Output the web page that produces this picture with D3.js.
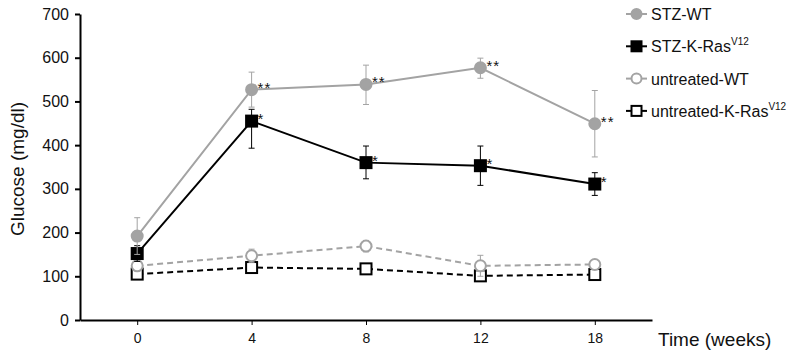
<!DOCTYPE html>
<html>
<head>
<meta charset="utf-8">
<script src="https://cdn.jsdelivr.net/npm/d3@7"></script>
<style>
  body { margin: 0; background: #fff; }
  svg { display: block; font-family: "Liberation Sans", Arial, sans-serif; }
</style>
</head>
<body>
<div id="chart"></div>
<script>
// time points (weeks)
const weeks = ["0", "4", "8", "12", "18"];
const yTicks = [0, 100, 200, 300, 400, 500, 600, 700];

// glucose means (mg/dl)
const stzWT = [192, 527, 539, 577, 449];
const stzKRas = [152, 455, 360, 353, 311];
const untreatedWT = [124, 147, 169, 124, 127];
const untreatedKRas = [105, 120, 117, 101, 104];

// error bars (upper / lower)
const stzWTErrUp = [42, 40, 44, 22, 76];
const stzWTErrDown = [42, 40, 46, 24, 76];
const stzKRasErrUp = [18, 27, 38, 45, 26];
const stzKRasErrDown = [18, 62, 37, 45, 26];
const untreatedWTErr = [6, 15, 13, 24, 5];
const untreatedKRasErr = [4, 5, 5, 4, 4];

// significance markers
const stzWTStars = ["", "**", "**", "**", "**"];
const stzKRasStars = ["", "*", "*", "*", "*"];

const grey = "#a3a3a3";

const series = [
  {name: "untreated-K-Ras", sup: "V12", values: untreatedKRas, up: untreatedKRasErr, down: untreatedKRasErr,
   color: "#000", fill: "#fff", shape: "square", dash: "6,4", stars: null},
  {name: "untreated-WT", sup: "", values: untreatedWT, up: untreatedWTErr, down: untreatedWTErr,
   color: grey, fill: "#fff", shape: "circle", dash: "6,4", stars: null},
  {name: "STZ-K-Ras", sup: "V12", values: stzKRas, up: stzKRasErrUp, down: stzKRasErrDown,
   color: "#000", fill: "#000", shape: "square", dash: null, stars: stzKRasStars},
  {name: "STZ-WT", sup: "", values: stzWT, up: stzWTErrUp, down: stzWTErrDown,
   color: grey, fill: grey, shape: "circle", dash: null, stars: stzWTStars}
];

const width = 787, height = 355;
const marginLeft = 80, marginTop = 14, plotRight = 652, plotBottom = 320;

const svg = d3.select("#chart").append("svg")
  .attr("width", width)
  .attr("height", height);

const x = d3.scalePoint()
  .domain(weeks)
  .range([marginLeft, plotRight])
  .padding(0.5);

const y = d3.scaleLinear()
  .domain([0, 700])
  .range([plotBottom, marginTop]);

// axes
svg.append("g")
  .attr("transform", `translate(${marginLeft},0)`)
  .call(d3.axisLeft(y).tickValues(yTicks).tickSize(5).tickPadding(6).tickSizeOuter(0))
  .call(g => g.select(".domain").attr("stroke-width", 2))
  .call(g => g.selectAll(".tick line").attr("stroke-width", 2))
  .call(g => g.selectAll(".tick text").attr("font-size", 16).attr("fill", "#111")
    .attr("font-family", "Liberation Sans, Arial, sans-serif"));

svg.append("g")
  .attr("transform", `translate(0,${plotBottom})`)
  .call(d3.axisBottom(x).tickSize(5).tickPadding(8).tickSizeOuter(0))
  .call(g => g.select(".domain").attr("stroke-width", 2))
  .call(g => g.selectAll(".tick line").attr("stroke-width", 1))
  .call(g => g.selectAll(".tick text").attr("font-size", 14).attr("fill", "#111")
    .attr("font-family", "Liberation Sans, Arial, sans-serif"));

// axis titles
svg.append("text")
  .attr("transform", `translate(24,${(marginTop + plotBottom) / 2 + 2}) rotate(-90)`)
  .attr("text-anchor", "middle")
  .attr("font-size", 19)
  .attr("fill", "#111")
  .text("Glucose (mg/dl)");

svg.append("text")
  .attr("x", 658)
  .attr("y", 346)
  .attr("font-size", 19)
  .attr("fill", "#111")
  .text("Time (weeks)");

const line = d3.line()
  .x((d, i) => x(weeks[i]))
  .y(d => y(d));

function drawMarker(g, s, cx, cy, size) {
  if (s.shape === "circle") {
    g.append("circle")
      .attr("cx", cx).attr("cy", cy).attr("r", size / 2)
      .attr("fill", s.fill).attr("stroke", s.color).attr("stroke-width", 2);
  } else {
    g.append("rect")
      .attr("x", cx - size / 2).attr("y", cy - size / 2)
      .attr("width", size).attr("height", size)
      .attr("fill", s.fill).attr("stroke", s.color).attr("stroke-width", 2);
  }
}

series.forEach(s => {
  const g = svg.append("g");
  // error bars
  s.values.forEach((v, i) => {
    const cx = x(weeks[i]);
    const top = y(v + s.up[i]), bot = y(v - s.down[i]);
    g.append("line").attr("x1", cx).attr("x2", cx).attr("y1", top).attr("y2", bot)
      .attr("stroke", s.color).attr("stroke-width", 1);
    [top, bot].forEach(yy => g.append("line")
      .attr("x1", cx - 3).attr("x2", cx + 3).attr("y1", yy).attr("y2", yy)
      .attr("stroke", s.color).attr("stroke-width", 1));
  });
  g.append("path")
    .datum(s.values)
    .attr("d", line)
    .attr("fill", "none")
    .attr("stroke", s.color)
    .attr("stroke-width", 2)
    .attr("stroke-dasharray", s.dash);
  s.values.forEach((v, i) => drawMarker(g, s, x(weeks[i]), y(v), 11));
  if (s.stars) {
    s.values.forEach((v, i) => {
      if (!s.stars[i]) return;
      g.append("text")
        .attr("x", x(weeks[i]) + 6)
        .attr("y", y(v) + 3)
        .attr("font-size", 15)
        .attr("font-family", "Liberation Sans, Arial, sans-serif")
        .attr("letter-spacing", 1)
        .attr("fill", "#111")
        .text(s.stars[i]);
    });
  }
});

// legend
const legendOrder = ["STZ-WT", "STZ-K-Ras", "untreated-WT", "untreated-K-Ras"];
const legend = svg.append("g");
legendOrder.forEach((name, i) => {
  const s = series.find(d => d.name === name);
  const ly = 14 + i * 32.3;
  legend.append("line")
    .attr("x1", 626).attr("x2", 647).attr("y1", ly).attr("y2", ly)
    .attr("stroke", s.color).attr("stroke-width", 2);
  drawMarker(legend, s, 636.5, ly, 10);
  const t = legend.append("text")
    .attr("x", 651)
    .attr("y", ly + 6)
    .attr("font-size", 16)
    .attr("fill", "#111")
    .text(s.name);
  if (s.sup) {
    t.append("tspan")
      .attr("font-size", 10)
      .attr("dy", -7)
      .text(s.sup);
  }
});
</script>
</body>
</html>
